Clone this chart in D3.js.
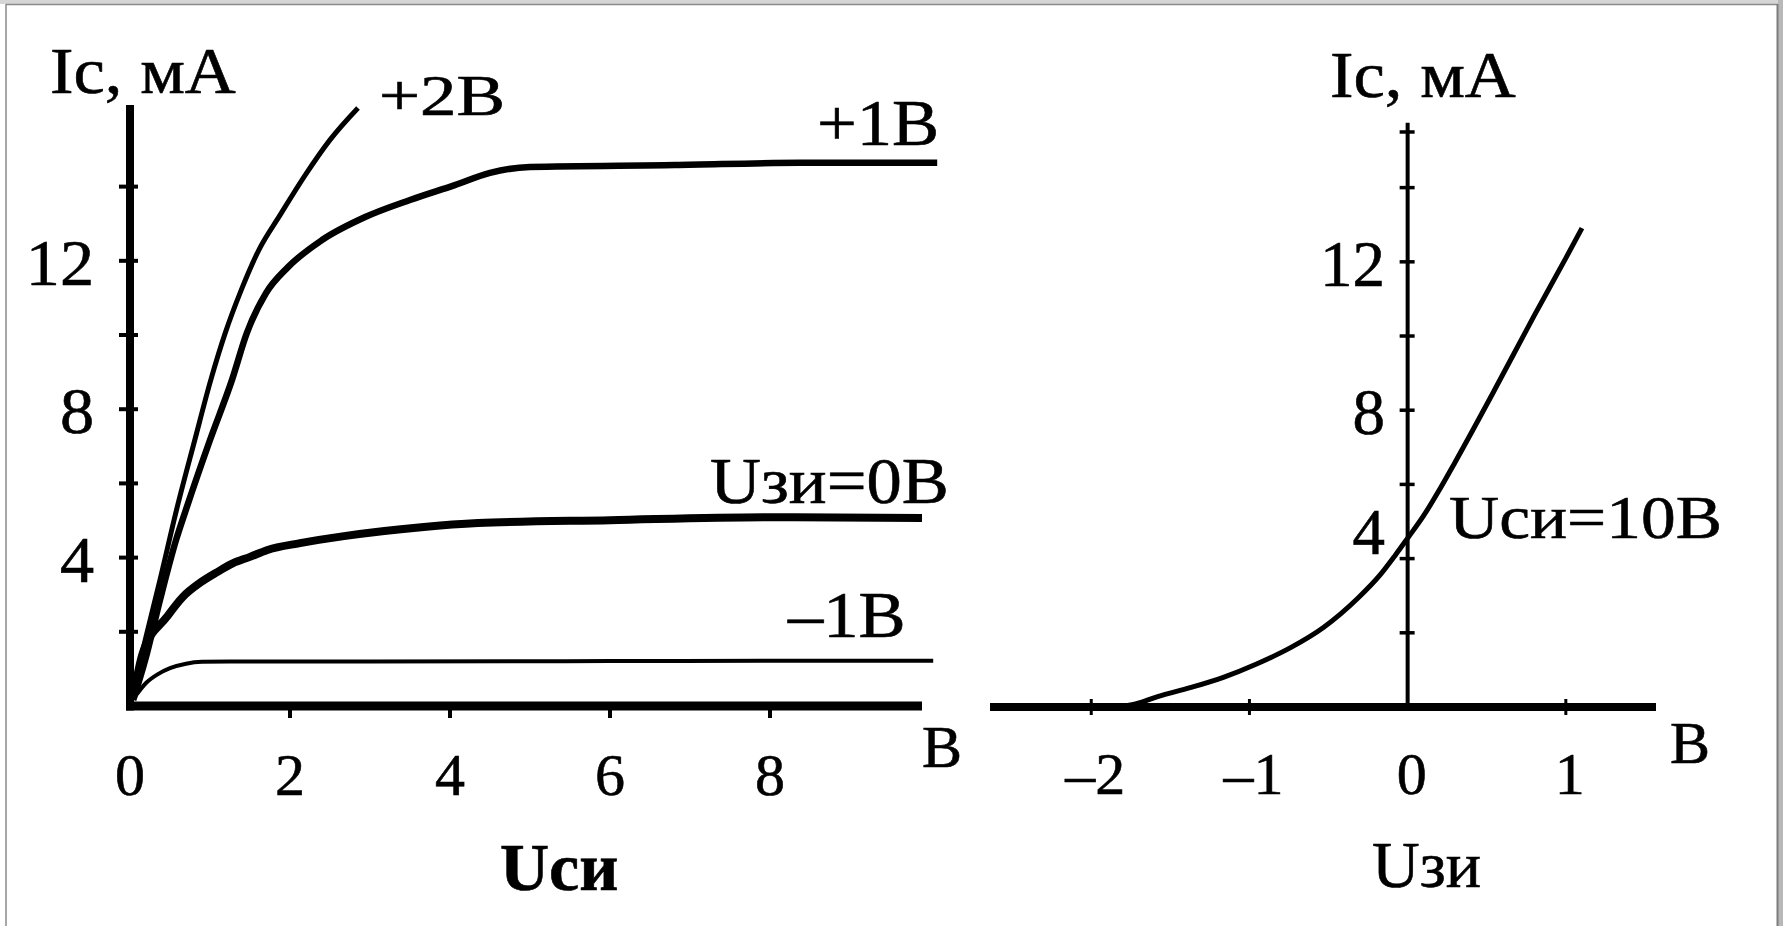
<!DOCTYPE html>
<html>
<head>
<meta charset="utf-8">
<script src="https://cdn.jsdelivr.net/npm/d3@7"></script>
<style>
  html, body { margin: 0; padding: 0; background: #fff; }
  svg { display: block; }
  text { font-family: "Liberation Serif", "Times New Roman", serif; fill: #000; stroke: #000; stroke-width: 0.6px; }
</style>
</head>
<body>
<svg id="chart" width="1783" height="926"></svg>
<script>
// ---- Output characteristics Ic(Uси), one curve per gate voltage [Uси, Ic] ----
const curvePlus2 = [[0.025,0.3],[0.19,1.78],[0.375,3.4],[0.59,5.36],[0.81,7.17],[1.01,8.79],[1.19,10.05],
  [1.39,11.21],[1.61,12.29],[1.875,13.23],[2.19,14.31],[2.5,15.26],[2.85,16.12]];
const curvePlus1 = [[0.04,0.16],[0.19,1.24],[0.375,2.86],[0.575,4.47],[0.71,5.36],[1.0,7.17],[1.275,8.79],
  [1.46,10.05],[1.7,11.13],[1.975,11.83],[2.4,12.56],[2.94,13.18],[3.5,13.64],[4.06,14.04],[4.5,14.37],
  [5.0,14.53],[6.81,14.58],[8.375,14.64],[10.09,14.64]];
const curveZero = [[0.04,0.24],[0.16,1.43],[0.46,2.4],[0.66,2.94],[0.875,3.32],[1.09,3.61],[1.29,3.85],
  [1.5,4.02],[1.71,4.2],[2.125,4.39],[2.675,4.58],[3.64,4.82],[4.35,4.93],[6.0,5.01],[8.0,5.09],[9.9,5.07]];
const curveMinus1 = [[0.075,0.29],[0.2,0.62],[0.35,0.86],[0.5,1.02],[0.7,1.14],[0.9,1.19],[1.25,1.2],
  [3.0,1.2],[6.0,1.21],[8.0,1.22],[10.04,1.22]];

// ---- Transfer characteristic Ic(Uзи) at Uси = 10 В [Uзи, Ic] ----
const curveTransfer = [[-1.84,0],[-1.72,0.08],[-1.58,0.28],[-1.375,0.52],[-1.165,0.8],[-0.955,1.16],
  [-0.74,1.6],[-0.53,2.15],[-0.315,2.93],[-0.17,3.58],[-0.08,4.08],[0.0,4.55],[0.1,5.15],[0.2,5.85],
  [0.3,6.6],[0.55,8.55],[0.8,10.55],[1.0,12.1],[1.102,12.91]];

// ---- Ticks and labels ----
const leftXTicks = [2, 4, 6, 8];
const leftXLabels = [0, 2, 4, 6, 8];
const leftYTicks = [2, 4, 6, 8, 10, 12, 14];
const leftYLabels = [4, 8, 12];
const rightXTicks = [-2, -1, 1];
const rightXLabels = [-2, -1, 0, 1];
const rightYTicks = [2, 4, 6, 8, 10, 12, 14, 15.5];
const rightYLabels = [4, 8, 12];
const curveLabels = ["+2В", "+1В", "Uзи=0В", "–1В"];

const svg = d3.select("#chart");

// ---- frame ----
svg.append("rect").attr("x", 0).attr("y", 0).attr("width", 1783).attr("height", 4).attr("fill", "#d6d6d6");
svg.append("rect").attr("x", 1778).attr("y", 0).attr("width", 5).attr("height", 926).attr("fill", "#b8b8b8");
svg.append("line").attr("x1", 6).attr("x2", 1778).attr("y1", 4.5).attr("y2", 4.5).attr("stroke", "#8a8a8a").attr("stroke-width", 1.5);
svg.append("line").attr("x1", 6).attr("x2", 6).attr("y1", 4).attr("y2", 926).attr("stroke", "#8a8a8a").attr("stroke-width", 1.5);
svg.append("line").attr("x1", 1777.5).attr("x2", 1777.5).attr("y1", 4).attr("y2", 926).attr("stroke", "#7c7c7c").attr("stroke-width", 2);

// ---- scales ----
const xL = d3.scaleLinear().domain([0, 9.9]).range([130, 922]);
const yL = d3.scaleLinear().domain([0, 16.2]).range([706, 105]);
const xR = d3.scaleLinear().domain([-2.64, 1.57]).range([990, 1656]);
const yR = d3.scaleLinear().domain([0, 15.75]).range([707, 122.7]);

// text helper: serif lettering, slightly widened
function label(g, x, y, str, opt = {}) {
  const t = g.append("text")
    .attr("transform", `translate(${x},${y}) scale(${opt.sx || 1.07},1)`)
    .attr("font-size", opt.size || 66)
    .attr("text-anchor", opt.anchor || "start")
    .text(str);
  if (opt.bold) t.attr("font-weight", "bold");
  return t;
}

// ================= left panel: output characteristics =================
const gl = svg.append("g");

const lineL = d3.line().x(d => xL(d[0])).y(d => yL(d[1])).curve(d3.curveMonotoneX);
const leftCurves = [
  { data: curveMinus1, w: 4 },
  { data: curveZero, w: 8 },
  { data: curvePlus1, w: 6.5 },
  { data: curvePlus2, w: 5 }
];
gl.selectAll("path.curve").data(leftCurves).join("path")
  .attr("class", "curve")
  .attr("d", d => lineL(d.data))
  .attr("fill", "none").attr("stroke", "#000")
  .attr("stroke-width", d => d.w)
  .attr("stroke-linejoin", "round");

// axes
gl.append("line").attr("x1", xL(0)).attr("x2", xL(0)).attr("y1", yL(16.2)).attr("y2", yL(0) + 4.5)
  .attr("stroke", "#000").attr("stroke-width", 8);
gl.append("line").attr("x1", xL(0) - 4).attr("x2", xL(9.9)).attr("y1", yL(0)).attr("y2", yL(0))
  .attr("stroke", "#000").attr("stroke-width", 9);
gl.selectAll("line.yt").data(leftYTicks).join("line").attr("class", "yt")
  .attr("x1", xL(0) - 11).attr("x2", xL(0) + 8)
  .attr("y1", d => yL(d)).attr("y2", d => yL(d))
  .attr("stroke", "#000").attr("stroke-width", 4);
gl.selectAll("line.xt").data(leftXTicks).join("line").attr("class", "xt")
  .attr("x1", d => xL(d)).attr("x2", d => xL(d))
  .attr("y1", yL(0) - 4).attr("y2", yL(0) + 12)
  .attr("stroke", "#000").attr("stroke-width", 4);

// tick labels
leftYLabels.forEach(v => label(gl, 94, yL(v) + 24, String(v), { anchor: "end", size: 65, sx: 1.05 }));
leftXLabels.forEach(v => label(gl, xL(v), 795, String(v), { anchor: "middle", size: 60, sx: 1.0 }));

// titles and curve labels
label(gl, 50, 93, "Ic, мА");
label(gl, 922, 767, "В", { size: 60, sx: 1.0 });
label(gl, 500, 890, "Uси", { size: 68, bold: true, sx: 1.0 });
label(gl, 379, 115, curveLabels[0], { size: 56, sx: 1.3 });
label(gl, 817, 145, curveLabels[1]);
label(gl, 710, 503, curveLabels[2]);
label(gl, 788, 637, curveLabels[3]);

// ================= right panel: transfer characteristic =================
const gr = svg.append("g");

const lineR = d3.line().x(d => xR(d[0])).y(d => yR(d[1])).curve(d3.curveMonotoneX);
gr.append("path").attr("d", lineR(curveTransfer))
  .attr("fill", "none").attr("stroke", "#000").attr("stroke-width", 5).attr("stroke-linejoin", "round");

gr.append("line").attr("x1", xR(0)).attr("x2", xR(0)).attr("y1", yR(15.75)).attr("y2", yR(0) + 4)
  .attr("stroke", "#000").attr("stroke-width", 4);
gr.append("line").attr("x1", xR(-2.64)).attr("x2", xR(1.57)).attr("y1", yR(0)).attr("y2", yR(0))
  .attr("stroke", "#000").attr("stroke-width", 8);
gr.selectAll("line.yt").data(rightYTicks).join("line").attr("class", "yt")
  .attr("x1", xR(0) - 8).attr("x2", xR(0) + 7)
  .attr("y1", d => yR(d)).attr("y2", d => yR(d))
  .attr("stroke", "#000").attr("stroke-width", 3.5);
gr.selectAll("line.xt").data(rightXTicks).join("line").attr("class", "xt")
  .attr("x1", d => xR(d)).attr("x2", d => xR(d))
  .attr("y1", yR(0) - 8).attr("y2", yR(0) + 8)
  .attr("stroke", "#000").attr("stroke-width", 3);

// the "4" label is lifted above its tick so the curve stays clear
rightYLabels.forEach(v => label(gr, 1385, yR(v) + (v === 4 ? -5 : 24), String(v), { anchor: "end", size: 65, sx: 1.0 }));
rightXLabels.forEach(v => label(gr, xR(v) + 4, 794, v < 0 ? "–" + Math.abs(v) : String(v), { anchor: "middle", size: 60, sx: 1.0 }));

label(gr, 1330, 97, "Ic, мА");
label(gr, 1670, 763, "В", { size: 60, sx: 1.0 });
label(gr, 1372, 887, "Uзи", { size: 66, sx: 1.0 });
label(gr, 1449, 538, "Uси=10В", { size: 62, sx: 1.12 });
</script>
</body>
</html>
